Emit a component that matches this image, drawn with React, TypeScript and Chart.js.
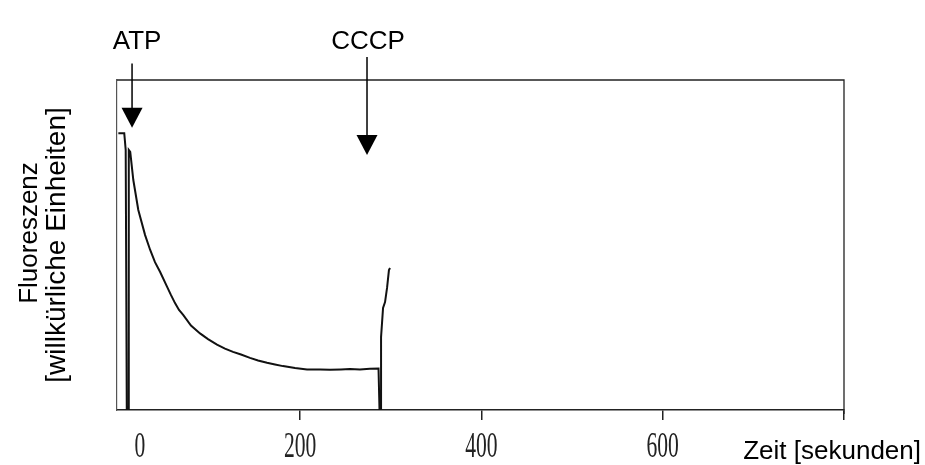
import React, { useEffect, useRef } from "react";
import { Chart, registerables } from "chart.js";

Chart.register(...registerables);

// Zeit [sekunden]
const times = [
  -0.5, 6, 7.6, 8.8, 10.4, 11, 12.6, 16, 21.5, 29, 34.6, 39.9, 45.6, 53.3,
  57.6, 62, 66.4, 71, 79.6, 89.6, 98.4, 108.3, 117.1, 126, 134.8, 144.7, 153.6,
  163.5, 172.3, 181.1, 194.4, 207.6, 222, 233, 245, 255, 266, 277, 286.5,
  287.6, 289.3, 289.3, 291.5, 293.7, 295.9, 298, 299.2,
];
// Fluoreszenz [willkürliche Einheiten]
const fluorescence = [
  83.9, 83.9, 78.8, 0, 0, 78.8, 78.2, 69.7, 60.6, 53, 48.5, 44.8, 41.8, 37.3,
  34.8, 32.4, 30.3, 28.8, 25.6, 23.2, 21.5, 19.8, 18.6, 17.6, 16.8, 15.8, 15.0,
  14.3, 13.8, 13.3, 12.7, 12.3, 12.3, 12.2, 12.3, 12.4, 12.3, 12.5, 12.6, 0, 0,
  22.1, 30.9, 32.7, 37, 42.4, 43,
];

const tickMarks = [200, 400, 600, 800];
const tickLabels = [0, 200, 400, 600];

const eventLabels = ["ATP", "CCCP"];
const eventTimes = [14.6, 273.8];
const eventArrowTop = [105, 107];
const eventArrowTip = [85.5, 77.3];

const yTitleLines = ["Fluoreszenz", "[willkürliche Einheiten]"];
const xTitle = "Zeit [sekunden]";

const decorPlugin = {
  id: "decor",
  afterDraw(chart: any) {
    const { ctx, chartArea } = chart;
    const xs = chart.scales.x;
    const ys = chart.scales.y;
    ctx.save();
    // top & right frame
    ctx.strokeStyle = "#222";
    ctx.lineWidth = 1.3;
    ctx.beginPath();
    ctx.moveTo(chartArea.left, chartArea.top);
    ctx.lineTo(chartArea.right, chartArea.top);
    ctx.lineTo(chartArea.right, chartArea.bottom + 4);
    ctx.stroke();

    // tick labels (narrow serif)
    ctx.fillStyle = "#222";
    ctx.textAlign = "center";
    ctx.textBaseline = "alphabetic";
    ctx.font = '36px "Liberation Serif"';
    tickLabels.forEach((v) => {
      const px = Math.max(xs.getPixelForValue(v), chartArea.left + 23);
      ctx.save();
      ctx.translate(px, 457);
      ctx.scale(0.6, 1);
      ctx.fillText(String(v), 0, 0);
      ctx.restore();
    });

    // x title
    ctx.fillStyle = "#000";
    ctx.font = '26px "Liberation Sans", Arial, sans-serif';
    ctx.textAlign = "right";
    ctx.fillText(xTitle, 921, 459);

    // y title
    ctx.save();
    ctx.rotate(-Math.PI / 2);
    ctx.textAlign = "center";
    ctx.font = '26px "Liberation Sans", Arial, sans-serif';
    ctx.fillText(yTitleLines[0], -233, 37);
    ctx.font = '28px "Liberation Sans", Arial, sans-serif';
    ctx.fillText(yTitleLines[1], -245, 65);
    ctx.restore();

    // event arrows
    eventLabels.forEach((lab, i) => {
      const px = xs.getPixelForValue(eventTimes[i]);
      const topY = ys.getPixelForValue(eventArrowTop[i]);
      const tipY = ys.getPixelForValue(eventArrowTip[i]);
      ctx.fillStyle = "#000";
      ctx.font = '26px "Liberation Sans", Arial, sans-serif';
      ctx.textAlign = "center";
      ctx.fillText(lab, px + (i === 0 ? 5 : 1), 49);
      ctx.strokeStyle = "#000";
      ctx.lineWidth = 1.5;
      ctx.beginPath();
      ctx.moveTo(px, topY);
      ctx.lineTo(px, tipY - 18);
      ctx.stroke();
      ctx.beginPath();
      ctx.moveTo(px - 10.5, tipY - 20);
      ctx.lineTo(px + 10.5, tipY - 20);
      ctx.lineTo(px, tipY);
      ctx.closePath();
      ctx.fill();
    });
    ctx.restore();
  },
};

export default function App() {
  const ref = useRef<HTMLCanvasElement>(null);
  useEffect(() => {
    if (!ref.current) return;
    const chart = new Chart(ref.current, {
      type: "line",
      data: {
        datasets: [
          {
            data: times.map((t, i) => ({ x: t, y: fluorescence[i] })),
            borderColor: "#111",
            borderWidth: 2,
            pointRadius: 0,
            tension: 0,
            fill: false,
          },
        ],
      },
      options: {
        animation: false,
        responsive: true,
        maintainAspectRatio: false,
        layout: { padding: { left: 117, right: 81, top: 80, bottom: 55 } },
        plugins: {
          legend: { display: false },
          tooltip: { enabled: false },
          title: { display: false },
        },
        scales: {
          x: {
            type: "linear",
            min: -2,
            max: 800,
            afterBuildTicks: (s: any) => {
              s.ticks = tickMarks.map((v) => ({ value: v }));
            },
            afterFit: (s: any) => {
              s.height = 0;
            },
            ticks: { display: false },
            grid: {
              display: true,
              drawOnChartArea: false,
              drawTicks: true,
              tickLength: 10,
              color: "#222",
              lineWidth: 1.5,
            },
            border: { display: true, color: "#222", width: 1.5 },
          },
          y: {
            type: "linear",
            min: 0,
            max: 100,
            afterFit: (s: any) => {
              s.width = 0;
            },
            ticks: { display: false },
            grid: { display: true, drawOnChartArea: false, drawTicks: false },
            border: { display: true, color: "#555", width: 1.2 },
          },
        },
      },
      plugins: [decorPlugin],
    });
    return () => chart.destroy();
  }, []);
  return (
    <div
      style={{
        position: "absolute",
        left: 0,
        top: 0,
        width: 925,
        height: 465,
        background: "#fff",
      }}
    >
      <canvas ref={ref} />
    </div>
  );
}
